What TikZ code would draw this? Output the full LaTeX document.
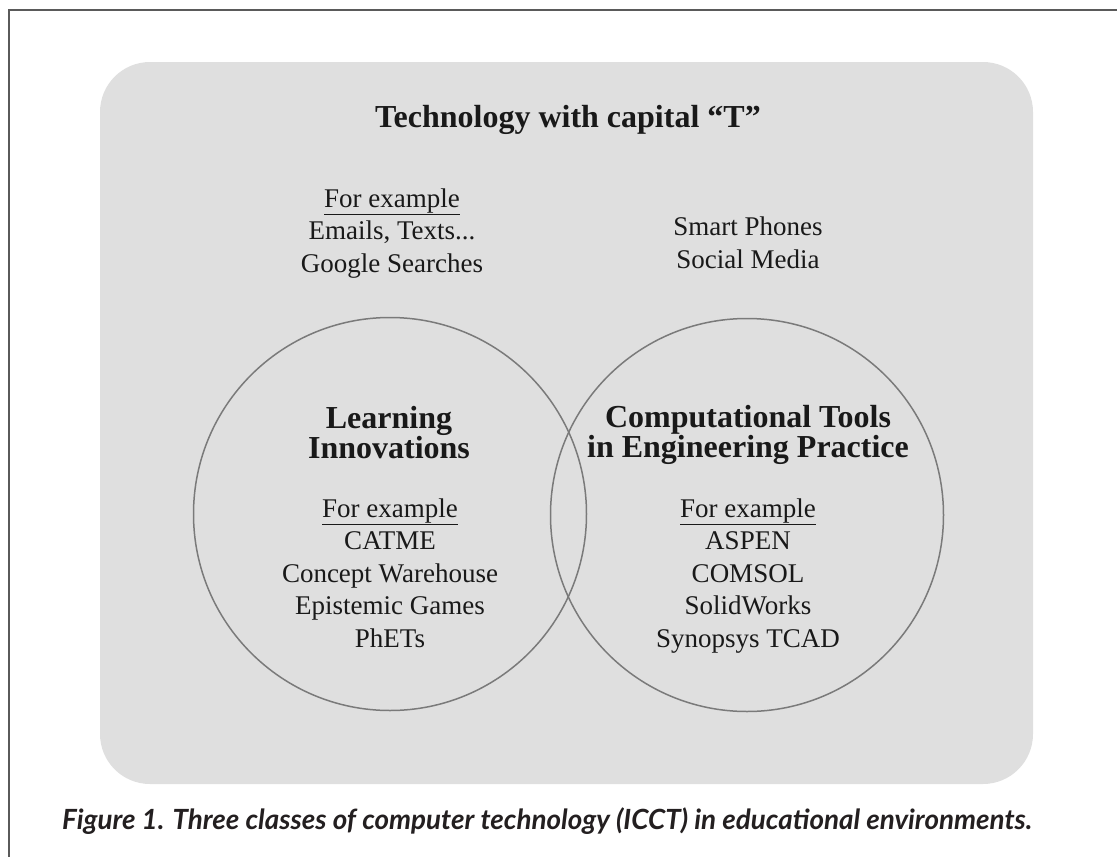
\documentclass[tikz,border=0pt]{standalone}
\usepackage{fontspec}
\setmainfont{Liberation Serif}
\newfontfamily\capfont{Lato}
\definecolor{panel}{HTML}{DFDFDF}
\definecolor{ringgray}{HTML}{7A7A7A}
\definecolor{framegray}{HTML}{5A5A5A}
\definecolor{capink}{HTML}{231F20}
\tikzset{
  head/.style={font=\fontsize{32}{30}\selectfont\bfseries, align=center, inner sep=0pt, anchor=base, text=black!90},
  plain/.style={font=\fontsize{27}{32.5}\selectfont, align=center, inner sep=0pt, anchor=base, text=black!90},
  ring/.style={draw=ringgray, line width=1.5pt, circle, minimum size=393pt, inner sep=0pt},
}
\begin{document}
\begin{tikzpicture}[x=1pt,y=-1pt]
  \useasboundingbox (0,0) rectangle (1117,857);
  % frame and panel
  \draw[framegray, line width=2pt] (9,857) -- (9,10) -- (1117,10);
  \fill[panel, rounded corners=50pt] (100,62) rectangle (1033,784);
  % the two classes
  \node[ring] (LI) at (390,514) {};
  \node[ring] (CT) at (747,515) {};
  % texts (base = last line)
  \node[head] (T) at (568,127) {Technology with capital ``T''};
  \node[plain] (outer) at (392,272) {\underline{For example}\\Emails, Texts...\\Google Searches};
  \node[plain] (phones) at (748,268) {Smart Phones\\Social Media};
  \node[head] (LIname) at (389,458) {Learning\\Innovations};
  \node[plain] (LIex) at (390,647) {\underline{For example}\\CATME\\Concept Warehouse\\Epistemic Games\\PhETs};
  \node[head] (CTname) at (748,457) {Computational Tools\\in Engineering Practice};
  \node[plain] (CTex) at (748,647) {\underline{For example}\\ASPEN\\COMSOL\\SolidWorks\\Synopsys TCAD};
  % caption
  \node[anchor=base west, inner sep=0pt, text=capink] (cap) at (62,829)
    {\resizebox{970pt}{!}{\capfont\bfseries\itshape Figure 1. Three classes of computer technology (ICCT) in educational environments.}};
\end{tikzpicture}
\end{document}
